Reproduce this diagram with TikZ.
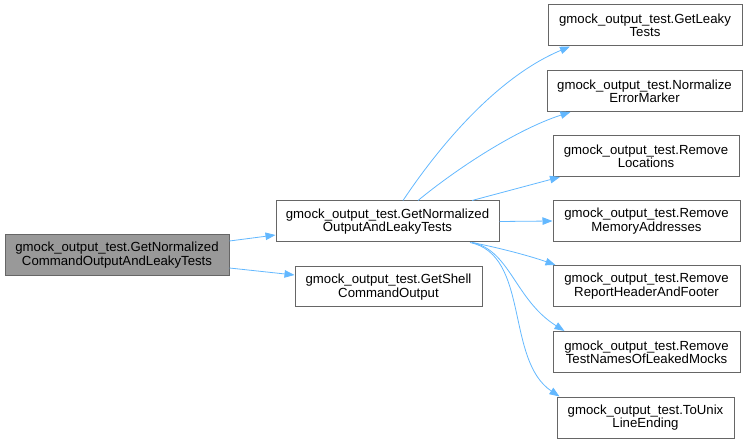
\documentclass[tikz,border=0pt]{standalone}
\usepackage{fontspec}
\setmainfont{Liberation Sans}
\usepackage{tikz}
\usepackage{xcolor}
\usetikzlibrary{arrows.meta}
\usetikzlibrary{calc}
\definecolor{edgeblue}{HTML}{63B8FF}
\definecolor{boxline}{HTML}{666666}
\definecolor{mainfill}{HTML}{999999}
\tikzset{
  % A function box in the call graph
  fn/.style={
    draw=boxline, fill=white, rectangle, align=center, line width=1pt,
    font=\fontsize{13.2}{13.4}\selectfont, inner sep=0pt,
    minimum height=41pt, minimum width=#1},
  % The function the graph is drawn for
  fnmain/.style={fn=#1, fill=mainfill},
  % A call
  calls/.style={-{Triangle[length=10pt, width=7.5pt]}, draw=edgeblue, line width=0.8pt},
}

\begin{document}
\begin{tikzpicture}[x=1pt, y=-1pt]
  \useasboundingbox (0,0) rectangle (749,443);

  \node[fnmain=224pt] (main) at (117,255) {gmock\_output\_test.GetNormalized\\CommandOutputAndLeakyTests};
  \node[fn=223pt] (gnol) at (387.5,221.5) {gmock\_output\_test.GetNormalized\\OutputAndLeakyTests};
  \node[fn=187pt, minimum height=40pt] (shell) at (388.5,287) {gmock\_output\_test.GetShell\\CommandOutput};

  \node[fn=194pt] (leaky) at (645,25.5) {gmock\_output\_test.GetLeaky\\Tests};
  \node[fn=195pt] (norm) at (644.5,91) {gmock\_output\_test.Normalize\\ErrorMarker};
  \node[fn=186pt] (loc) at (646,156) {gmock\_output\_test.Remove\\Locations};
  \node[fn=187pt] (mem) at (646.5,221) {gmock\_output\_test.Remove\\MemoryAddresses};
  \node[fn=187pt] (rep) at (646.5,286) {gmock\_output\_test.Remove\\ReportHeaderAndFooter};
  \node[fn=187pt] (names) at (646.5,352) {gmock\_output\_test.Remove\\TestNamesOfLeakedMocks};
  \node[fn=177pt] (unix) at (645.5,417.5) {gmock\_output\_test.ToUnix\\LineEnding};

  % calls from the main function
  \draw[calls] ([yshift=14pt]main.east) -- ([yshift=-13.5pt]gnol.west);
  \draw[calls] ([yshift=-13pt]main.east) -- ([yshift=12pt]shell.west);

  % calls from GetNormalizedOutputAndLeakyTests
  \draw[calls] ([xshift=15.5pt]gnol.north) .. controls (430,160) and (490,80) .. ([xshift=-75pt]leaky.south);
  \draw[calls] ([xshift=30.5pt]gnol.north) .. controls (455,170) and (515,130) .. ([xshift=-74pt]norm.south);
  \draw[calls] ([xshift=84.5pt]gnol.north) -- ([xshift=-86pt]loc.south);
  \draw[calls] (gnol.east) -- (mem.west);
  \draw[calls] ([xshift=84.5pt]gnol.south) .. controls (500,248) and (530,256) .. ([xshift=-91pt]rep.north);
  \draw[calls] ([xshift=84.5pt]gnol.south) .. controls (510,250) and (515,300) .. ([xshift=-82pt]names.north);
  \draw[calls] ([xshift=82.5pt]gnol.south) .. controls (530,255) and (505,360) .. ([xshift=-86pt]unix.north);

\end{tikzpicture}
\end{document}
